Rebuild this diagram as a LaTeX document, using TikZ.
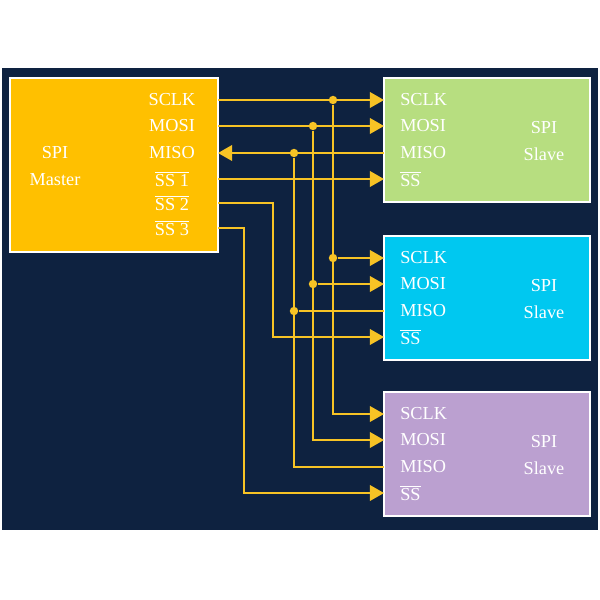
\documentclass[tikz,border=0pt]{standalone}
\usepackage{xcolor}
\usepackage{fontspec}
\setmainfont{Liberation Serif}
\usetikzlibrary{arrows.meta}
\definecolor{navy}{HTML}{0E2240}
\definecolor{masterc}{HTML}{FFC000}
\definecolor{greenc}{HTML}{B7DE80}
\definecolor{cyanc}{HTML}{00C8F0}
\definecolor{purplec}{HTML}{BBA0D0}
\definecolor{wire}{HTML}{F7C325}
\begin{document}
\begin{tikzpicture}[x=0.025cm,y=-0.025cm,
  box/.style={draw=white,line width=0.8pt},
  pin/.style={text=white,font=\fontsize{13}{15}\selectfont,inner sep=0pt},
  sig/.style={draw=wire,line width=1.5pt},
  tip/.style={-{Triangle[length=10pt,width=11pt]}},
  dot/.style={circle,fill=wire,inner sep=0pt,minimum size=6pt}]
  \useasboundingbox[fill=white] (0,0) rectangle (600,600);
  \fill[navy] (2,68) rectangle (598,530);

  % master
  \draw[box,fill=masterc] (10,78) rectangle (218,252);
  \node[pin,align=center] at (55,166) {SPI\\[4pt]Master};
  \foreach \name/\y/\text in {mSCLK/100/SCLK, mMOSI/126/MOSI, mMISO/153/MISO,
      mSS1/179/$\overline{\mbox{SS 1}}$, mSS2/203/$\overline{\mbox{SS 2}}$, mSS3/228/$\overline{\mbox{SS 3}}$}
    { \node[pin] (\name) at (172,\y) {\text};
      \coordinate (\name-e) at (218,\y); }

  % slaves
  \foreach \s/\top/\col in {1/78/greenc, 2/236/cyanc, 3/392/purplec}
  { \draw[box,fill=\col] (384,\top) rectangle (590,\top+124);
    \node[pin,align=center] at (544,\top+63) {SPI\\[4pt]Slave};
    \foreach \name/\dy/\text in {SCLK/22/SCLK, MOSI/48/MOSI, MISO/75/MISO, SS/101/$\overline{\mbox{SS}}$}
      { \node[pin,anchor=west] (s\s\name) at (400,\top+\dy) {\text};
        \coordinate (s\s\name-w) at (384,\top+\dy); } }

  % buses
  \foreach \sig/\x in {SCLK/333, MOSI/313, MISO/294}
  { \coordinate (b\sig) at (\x,0);
    \node[dot] (d1\sig) at (b\sig |- s1\sig-w) {};
    \node[dot] (d2\sig) at (b\sig |- s2\sig-w) {}; }
  \draw[sig,tip] (mSCLK-e) -- (s1SCLK-w);
  \draw[sig,tip] (mMOSI-e) -- (s1MOSI-w);
  \draw[sig,tip] (s1MISO-w) -- (mMISO-e);
  \foreach \sig in {SCLK, MOSI}
  { \draw[sig,tip] (d2\sig) -- (s2\sig-w);
    \draw[sig,tip] (d1\sig) -- (b\sig |- s3\sig-w) -- (s3\sig-w); }
  \draw[sig] (s2MISO-w) -- (d2MISO);
  \draw[sig] (s3MISO-w) -- (bMISO |- s3MISO-w) -- (d1MISO);
  \draw[sig,tip] (mSS1-e) -- (s1SS-w);
  \draw[sig,tip] (mSS2-e) -- (273,203) -- (273,337) -- (s2SS-w);
  \draw[sig,tip] (mSS3-e) -- (244,228) -- (244,493) -- (s3SS-w);
\end{tikzpicture}
\end{document}
